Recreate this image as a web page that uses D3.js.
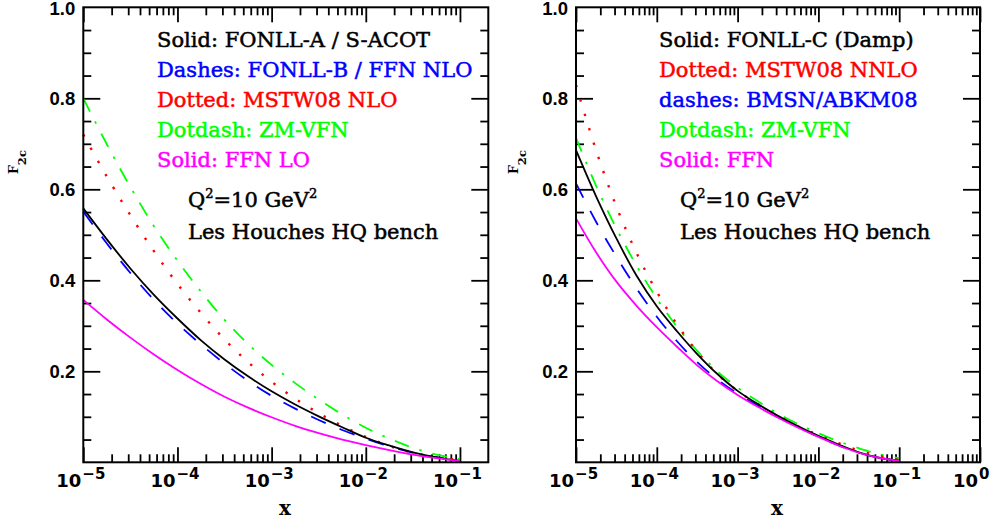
<!DOCTYPE html>
<html lang="en">
<head>
<meta charset="utf-8">
<title>F2c - Les Houches HQ bench</title>
<script src="https://d3js.org/d3.v7.min.js"></script>
<style>
  body { margin: 0; background: #fff; }
</style>
</head>
<body>
<script>
var logX = [-5, -4.75, -4.5, -4.25, -4, -3.75, -3.5, -3.25, -3, -2.75, -2.5, -2.25, -2, -1.75, -1.5, -1.25, -1];

// left panel
var fonllA   = [0.558, 0.490, 0.426, 0.368, 0.316, 0.268, 0.226, 0.189, 0.156, 0.127, 0.101, 0.077, 0.054, 0.037, 0.022, 0.011, 0.003];
var fonllB   = [0.551, 0.481, 0.416, 0.357, 0.305, 0.259, 0.217, 0.179, 0.146, 0.118, 0.093, 0.071, 0.052, 0.035, 0.021, 0.011, 0.004];
var mstwNLO  = [0.720, 0.628, 0.543, 0.464, 0.392, 0.328, 0.270, 0.220, 0.177, 0.140, 0.108, 0.080, 0.056, 0.036, 0.021, 0.011, 0.005];
var zmvfnL   = [0.800, 0.699, 0.605, 0.519, 0.443, 0.375, 0.313, 0.260, 0.214, 0.174, 0.138, 0.105, 0.076, 0.052, 0.032, 0.017, 0.007];
var ffnLO    = [0.357, 0.314, 0.274, 0.237, 0.203, 0.172, 0.144, 0.120, 0.099, 0.080, 0.064, 0.050, 0.038, 0.027, 0.017, 0.009, 0.003];

// right panel
var fonllC   = [0.686, 0.584, 0.492, 0.410, 0.343, 0.288, 0.238, 0.194, 0.157, 0.128, 0.102, 0.079, 0.058, 0.039, 0.022, 0.010, 0.003];
var bmsn     = [0.613, 0.528, 0.452, 0.382, 0.320, 0.266, 0.220, 0.182, 0.151, 0.125, 0.100, 0.077, 0.056, 0.037, 0.021, 0.010, 0.003];
var mstwNNLO = [0.829, 0.685, 0.562, 0.460, 0.375, 0.303, 0.243, 0.194, 0.157, 0.128, 0.102, 0.079, 0.060, 0.042, 0.026, 0.014, 0.005];
var zmvfnR   = [0.713, 0.607, 0.514, 0.432, 0.360, 0.298, 0.245, 0.200, 0.164, 0.134, 0.107, 0.084, 0.064, 0.046, 0.031, 0.018, 0.009];
var ffn      = [0.536, 0.461, 0.397, 0.344, 0.297, 0.254, 0.213, 0.178, 0.148, 0.122, 0.098, 0.076, 0.056, 0.037, 0.021, 0.010, 0.003];

var yTickLabels = ["0.2", "0.4", "0.6", "0.8", "1.0"];
var leftLegend  = ["Solid: FONLL-A / S-ACOT", "Dashes: FONLL-B / FFN NLO", "Dotted: MSTW08 NLO", "Dotdash: ZM-VFN", "Solid: FFN LO"];
var rightLegend = ["Solid: FONLL-C (Damp)", "Dotted: MSTW08 NNLO", "dashes: BMSN/ABKM08", "Dotdash: ZM-VFN", "Solid: FFN"];

var w = 994, h = 519;
var plotTop = 7.3, plotBottom = 462.3;   // NB: "top" is taken by window.top

// line styles
var styles = {
  black:   {color: "#000000", dash: null},
  blue:    {color: "#0000ff", dash: "16,15"},
  red:     {color: "#ff0000", dash: "2.4,12.6"},
  green:   {color: "#00ff00", dash: "15,11,2.5,11"},
  magenta: {color: "#ff00ff", dash: null}
};

var panels = [
  {x0: 83.3, x1: 488.3, xMax: 0.2, exps: [-5, -4, -3, -2, -1], legendX: 157, qX: 188, ylabX: 18, xlabX: 285,
   legend: leftLegend, legendCols: ["black", "blue", "red", "green", "magenta"],
   series: [[zmvfnL, "green"], [mstwNLO, "red"], [fonllB, "blue"], [fonllA, "black"], [ffnLO, "magenta"]]},
  {x0: 576, x1: 980, xMax: 1, exps: [-5, -4, -3, -2, -1, 0], legendX: 659, qX: 680, ylabX: 518, xlabX: 777,
   legend: rightLegend, legendCols: ["black", "red", "blue", "green", "magenta"],
   series: [[zmvfnR, "green"], [mstwNNLO, "red"], [bmsn, "blue"], [fonllC, "black"], [ffn, "magenta"]]}
];

var svg = d3.select("body").append("svg")
  .attr("width", w)
  .attr("height", h);

var serif = "'DejaVu Serif', serif";

panels.forEach(function(p) {
  var x = d3.scaleLog().domain([1e-5, p.xMax]).range([p.x0, p.x1]);
  var y = d3.scaleLinear().domain([0, 1]).range([plotBottom, plotTop]);

  var g = svg.append("g");

  // minor/major tick positions
  var majors = p.exps.map(function(e) { return Math.pow(10, e); }).filter(function(v) { return v <= p.xMax * 1.0001; });
  var minors = [];
  p.exps.forEach(function(e) {
    for (var k = 2; k <= 9; k++) {
      var v = k * Math.pow(10, e);
      if (v < p.xMax * 0.999) minors.push(v);
    }
  });
  var yMajor = [0.2, 0.4, 0.6, 0.8];
  var yMinor = [];
  for (var i = 1; i < 20; i++) { if (i % 4 != 0) yMinor.push(i * 0.05); }

  function drawAxis(axis, transform, values, size) {
    g.append("g")
      .attr("transform", transform)
      .call(axis.tickValues(values).tickSize(size).tickFormat(""))
      .call(function(s) {
        s.select(".domain").remove();
        s.selectAll("line").attr("stroke", "#000").attr("stroke-width", 1.8);
      });
  }
  // bottom & top
  drawAxis(d3.axisBottom(x), "translate(0," + plotBottom + ")", majors, -15);
  drawAxis(d3.axisBottom(x), "translate(0," + plotBottom + ")", minors, -8);
  drawAxis(d3.axisTop(x), "translate(0," + plotTop + ")", majors, -15);
  drawAxis(d3.axisTop(x), "translate(0," + plotTop + ")", minors, -8);
  // left & right
  drawAxis(d3.axisLeft(y), "translate(" + p.x0 + ",0)", yMajor, -17);
  drawAxis(d3.axisLeft(y), "translate(" + p.x0 + ",0)", yMinor, -8);
  drawAxis(d3.axisRight(y), "translate(" + p.x1 + ",0)", yMajor, -17);
  drawAxis(d3.axisRight(y), "translate(" + p.x1 + ",0)", yMinor, -8);

  // curves
  var line = d3.line()
    .x(function(d) { return x(Math.pow(10, d[0])); })
    .y(function(d) { return y(d[1]); })
    .curve(d3.curveCatmullRom.alpha(0.5));

  p.series.forEach(function(s) {
    var st = styles[s[1]];
    g.append("path")
      .datum(logX.map(function(lx, i) { return [lx, s[0][i]]; }))
      .attr("d", line)
      .attr("fill", "none")
      .attr("stroke", st.color)
      .attr("stroke-width", s[1] == "red" ? 2.4 : 1.8)
      .attr("stroke-dasharray", st.dash);
  });

  // frame
  g.append("rect")
    .attr("x", p.x0).attr("y", plotTop)
    .attr("width", p.x1 - p.x0).attr("height", plotBottom - plotTop)
    .attr("fill", "none").attr("stroke", "#000").attr("stroke-width", 2);

  // y tick labels
  g.selectAll(".ylab")
    .data(yTickLabels)
    .enter().append("text")
    .attr("x", p.x0 - 8)
    .attr("y", function(d) { return Math.max(y(+d) + 6.5, 15); })
    .attr("text-anchor", "end")
    .style("font-family", "'Liberation Sans', Arial, sans-serif")
    .style("font-weight", "bold")
    .style("font-size", "18.5px")
    .text(function(d) { return d; });

  // x tick labels 10^n
  p.exps.forEach(function(e) {
    var t = g.append("text")
      .attr("x", x(Math.pow(10, e)) - 27)
      .attr("y", 487)
      .style("font-family", "'DejaVu Sans', sans-serif")
      .style("font-weight", "bold")
      .style("font-size", "18px");
    t.append("tspan").text("10");
    t.append("tspan")
      .attr("dy", -8)
      .attr("dx", 1)
      .style("font-size", "15px")
      .text(e == 0 ? "0" : "\u2212" + (-e));
  });

  // axis titles
  g.append("text")
    .attr("x", p.xlabX)
    .attr("y", 515)
    .attr("text-anchor", "middle")
    .style("font-family", serif)
    .style("font-weight", "bold")
    .style("font-size", "20px")
    .text("x");

  var yl = g.append("text")
    .attr("transform", "translate(" + p.ylabX + ",174) rotate(-90)")
    .style("font-family", serif)
    .style("font-weight", "bold")
    .style("font-size", "12.5px");
  yl.append("tspan").text("F");
  yl.append("tspan").attr("dy", 8).style("font-size", "11.5px").text("2c");

  // legend
  g.selectAll(".leg")
    .data(p.legend)
    .enter().append("text")
    .attr("x", p.legendX)
    .attr("y", function(d, i) { return 46.5 + i * 30.2; })
    .style("font-family", serif)
    .style("font-size", "21px")
    .attr("fill", function(d, i) { return styles[p.legendCols[i]].color; })
    .attr("stroke", function(d, i) { return styles[p.legendCols[i]].color; })
    .attr("stroke-width", 0.5)
    .text(function(d) { return d; });

  var q = g.append("text")
    .attr("x", p.qX).attr("y", 207)
    .attr("stroke", "#000").attr("stroke-width", 0.5)
    .style("font-family", serif)
    .style("font-size", "21px");
  q.append("tspan").text("Q");
  q.append("tspan").attr("dy", -9).style("font-size", "13px").text("2");
  q.append("tspan").attr("dy", 9).text("=10 GeV");
  q.append("tspan").attr("dy", -9).style("font-size", "13px").text("2");

  g.append("text")
    .attr("x", p.qX).attr("y", 238.5)
    .attr("stroke", "#000").attr("stroke-width", 0.5)
    .style("font-family", serif)
    .style("font-size", "21px")
    .text("Les Houches HQ bench");
});
</script>
</body>
</html>
